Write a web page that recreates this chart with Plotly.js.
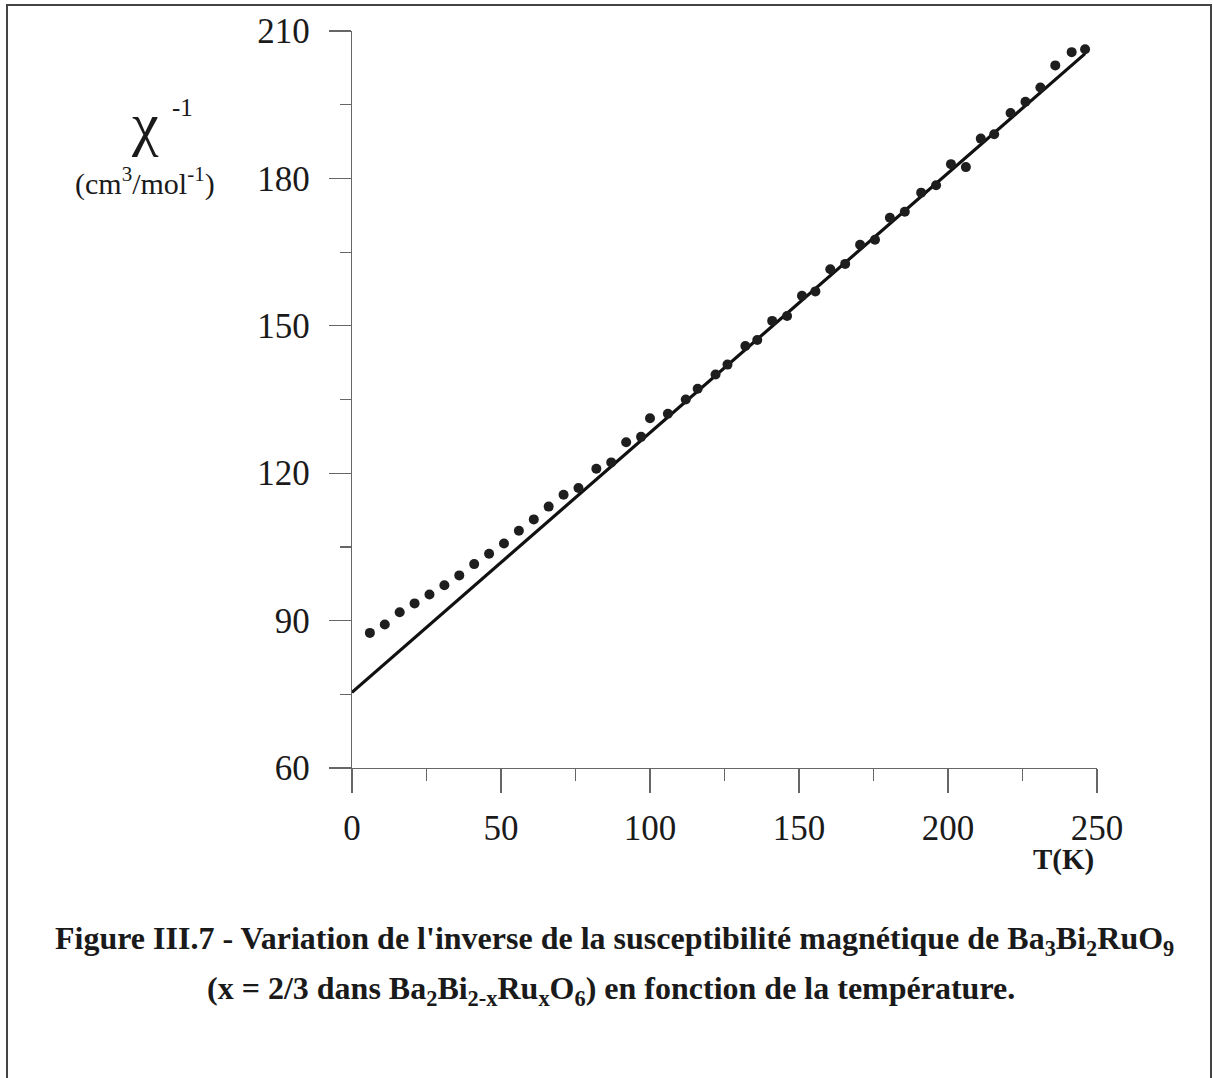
<!DOCTYPE html>
<html>
<head>
<meta charset="utf-8">
<script src="https://cdn.plot.ly/plotly-3.0.1.min.js"></script>
<style>
  html, body { margin: 0; padding: 0; background: #ffffff; }
  #chart { width: 1213px; height: 1078px; }
</style>
</head>
<body>
<div id="chart"></div>
<script>
// Measured points: temperature (K) and inverse susceptibility
const temperatureK = [6, 11, 16, 21, 26, 31, 36, 41, 46, 51, 56, 61, 66, 71, 76, 82, 87, 92,
  97, 100, 106, 112, 116, 122, 126, 132, 136, 141, 146, 151, 155.5, 160.5, 165.5,
  170.5, 175.5, 180.5, 185.5, 191, 196, 201, 206, 211, 215.5, 221, 226, 231, 236, 241.5, 246];
const inverseChi = [87.5, 89.2, 91.7, 93.5, 95.3, 97.2, 99.2, 101.5, 103.6, 105.7, 108.3, 110.6, 113.2, 115.6, 117.0, 120.9, 122.2, 126.3,
  127.4, 131.2, 132.1, 135.0, 137.2, 140.1, 142.1, 145.9, 147.1, 151.0, 152.0, 156.1, 157.0, 161.5, 162.6,
  166.5, 167.5, 172.0, 173.2, 177.1, 178.6, 182.9, 182.3, 188.1, 189.0, 193.3, 195.6, 198.5, 203.0, 205.7, 206.3];

// Linear (Curie-Weiss) fit line end points
const fitT = [0, 246];
const fitChi = [75.4, 205.4];

// Axis ticks
const xTicks = [0, 50, 100, 150, 200, 250];
const yTicks = [60, 90, 120, 150, 180, 210];

// Geometry of the plot area in pixels (for placing the free texts)
const W = 1213, H = 1078;
const L = 352, R = 1097, T = 31, B = 768;
const px = x => (x - L) / (R - L);
const py = y => (B - y) / (B - T);

const serif = "Liberation Serif, Times New Roman, serif";

const traces = [
  {
    x: fitT, y: fitChi, mode: 'lines', type: 'scatter',
    line: { color: '#111111', width: 3.2 }, hoverinfo: 'skip', showlegend: false
  },
  {
    x: temperatureK, y: inverseChi, mode: 'markers', type: 'scatter',
    marker: { color: '#1e1e1e', size: 10, line: { width: 0 } }, showlegend: false
  }
];

const layout = {
  width: W, height: H,
  paper_bgcolor: '#ffffff', plot_bgcolor: '#ffffff',
  margin: { l: L, r: W - R, t: T, b: H - B, pad: 0 },
  font: { family: serif, color: '#1a1a1a' },
  xaxis: {
    range: [0, 250], tickvals: xTicks, ticktext: xTicks.map(String),
    showgrid: false, zeroline: false, showline: true, linecolor: '#666', linewidth: 1.2,
    ticks: 'outside', ticklen: 24, tickwidth: 1.2, tickcolor: '#666',
    minor: { dtick: 25, ticks: 'outside', ticklen: 12, tickwidth: 1.2, tickcolor: '#666', showgrid: false },
    tickfont: { family: serif, size: 35, color: '#1a1a1a' }, ticklabelstandoff: 5
  },
  yaxis: {
    range: [60, 210], tickvals: yTicks, ticktext: yTicks.map(String),
    showgrid: false, zeroline: false, showline: true, linecolor: '#666', linewidth: 1.2,
    ticks: 'outside', ticklen: 22, tickwidth: 1.2, tickcolor: '#666',
    minor: { dtick: 15, ticks: 'outside', ticklen: 11, tickwidth: 1.2, tickcolor: '#666', showgrid: false },
    tickfont: { family: serif, size: 35, color: '#1a1a1a' }, ticklabelstandoff: 12
  },
  shapes: [
    { type: 'rect', xref: 'paper', yref: 'paper',
      x0: px(7), x1: px(1211), y0: py(1100), y1: py(5),
      line: { color: '#444', width: 2 }, fillcolor: 'rgba(0,0,0,0)' }
  ],
  annotations: [
    { xref: 'paper', yref: 'paper', x: px(145), y: py(124), xanchor: 'center', yanchor: 'middle',
      text: 'χ', showarrow: false, font: { family: serif, size: 60, color: '#1a1a1a' } },
    { xref: 'paper', yref: 'paper', x: px(182), y: py(108), xanchor: 'center', yanchor: 'middle',
      text: '-1', showarrow: false, font: { family: serif, size: 25, color: '#1a1a1a' } },
    { xref: 'paper', yref: 'paper', x: px(145), y: py(182), xanchor: 'center', yanchor: 'middle',
      text: '(cm<sup>3</sup>/mol<sup>-1</sup>)', showarrow: false, font: { family: serif, size: 30, color: '#1a1a1a' } },
    { xref: 'paper', yref: 'paper', x: px(1063), y: py(859), xanchor: 'center', yanchor: 'middle',
      text: '<b>T(K)</b>', showarrow: false, font: { family: serif, size: 29, color: '#1a1a1a' } },
    { xref: 'paper', yref: 'paper', x: px(614), y: py(940), xanchor: 'center', yanchor: 'middle',
      text: "<b>Figure III.7 - Variation de l'inverse de la susceptibilité magnétique de Ba<sub>3</sub>Bi<sub>2</sub>RuO<sub>9</sub></b>",
      showarrow: false, font: { family: serif, size: 32, color: '#1a1a1a' } },
    { xref: 'paper', yref: 'paper', x: px(611), y: py(990), xanchor: 'center', yanchor: 'middle',
      text: "<b>(x = 2/3 dans Ba<sub>2</sub>Bi<sub>2-x</sub>Ru<sub>x</sub>O<sub>6</sub>) en fonction de la température.</b>",
      showarrow: false, font: { family: serif, size: 32, color: '#1a1a1a' } }
  ]
};

Plotly.newPlot('chart', traces, layout, { displayModeBar: false, staticPlot: true });
</script>
</body>
</html>
